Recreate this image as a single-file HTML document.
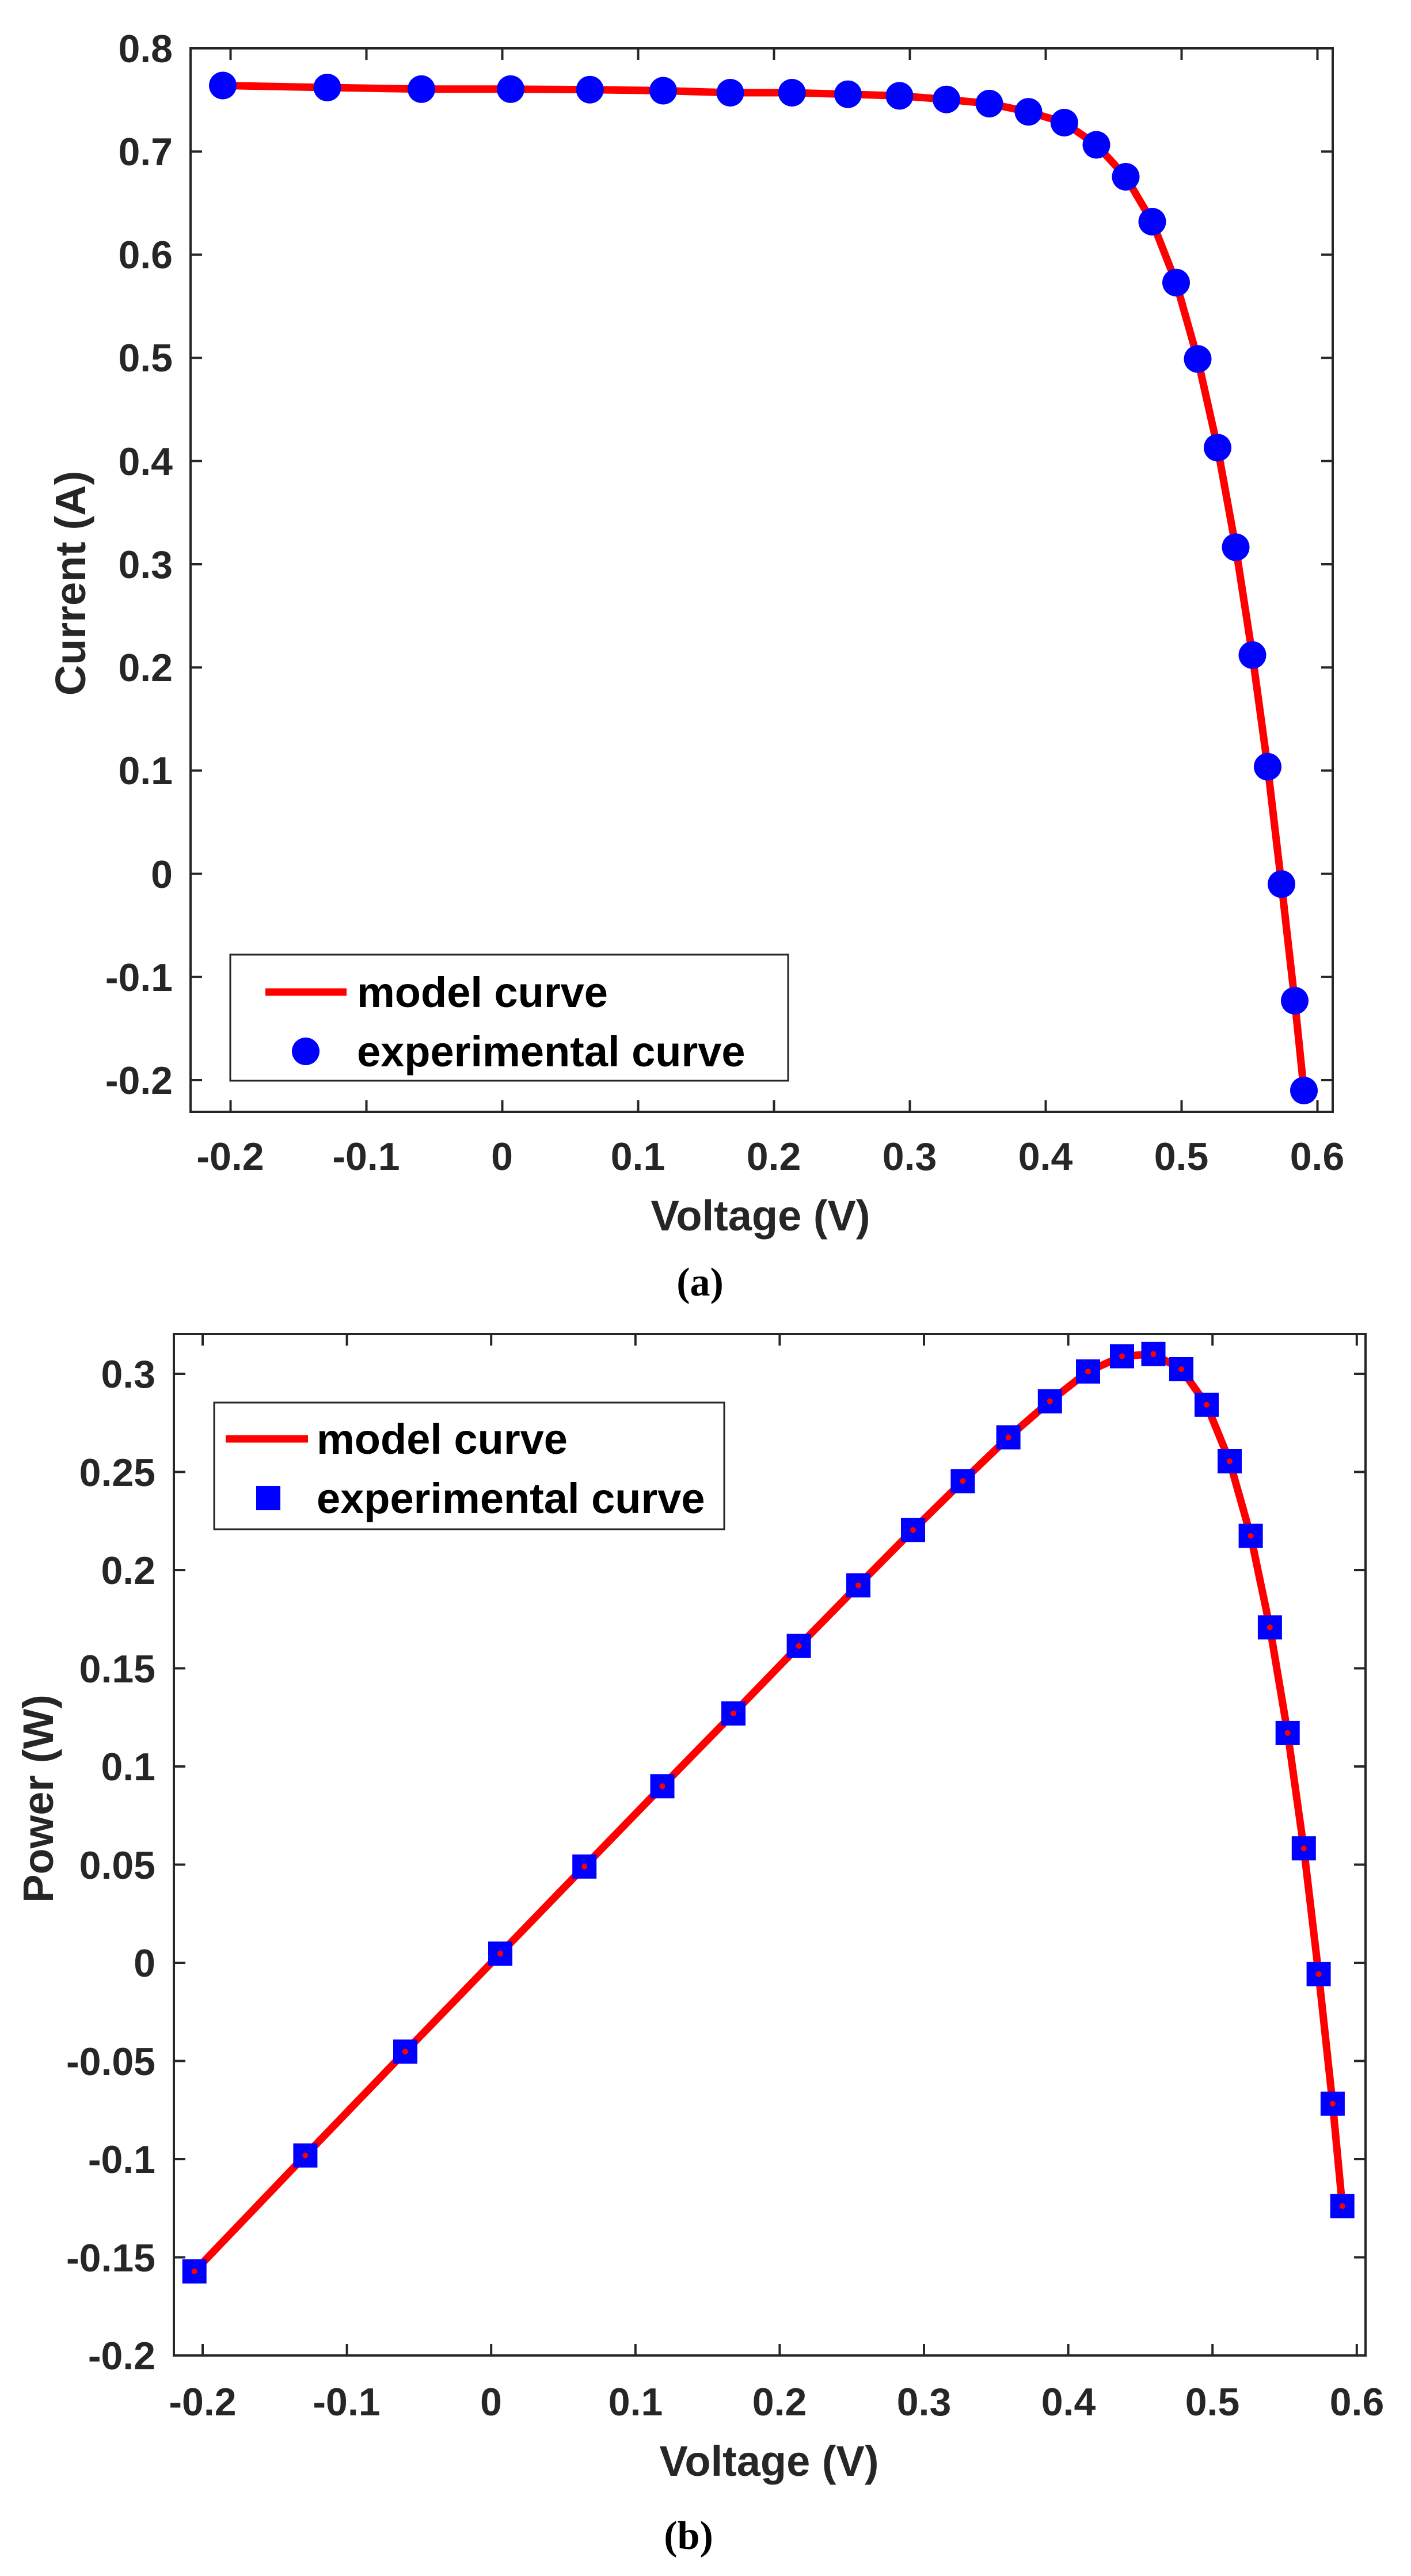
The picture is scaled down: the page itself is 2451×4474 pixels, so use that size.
<!DOCTYPE html>
<html><head><meta charset="utf-8"><style>
html,body{margin:0;padding:0;background:#fff}
svg{display:block}
text{font-family:"Liberation Sans",Arial,sans-serif;font-weight:bold;fill:#262626}
.t{font-size:68px}
.lab{font-size:74px}
.lg{font-size:74px;fill:#000}
.cap{font-family:"Liberation Serif",serif;font-size:70px;fill:#000}
</style></head><body>
<svg width="2451" height="4474" viewBox="0 0 2451 4474" xmlns="http://www.w3.org/2000/svg">
<rect width="2451" height="4474" fill="#fff"/>
<!-- ===== Plot (a) ===== -->
<g stroke="#262626" stroke-width="4" fill="none">
<rect x="331" y="84" width="1984" height="1847"/>
<path d="M331 84h20M331 263.2h20M331 442.4h20M331 621.6h20M331 800.8h20M331 980h20M331 1159.2h20M331 1338.4h20M331 1517.6h20M331 1696.8h20M331 1876h20
M2315 84h-20M2315 263.2h-20M2315 442.4h-20M2315 621.6h-20M2315 800.8h-20M2315 980h-20M2315 1159.2h-20M2315 1338.4h-20M2315 1517.6h-20M2315 1696.8h-20M2315 1876h-20
M400.5 1931v-20M636.5 1931v-20M872.5 1931v-20M1108.5 1931v-20M1344.5 1931v-20M1580.5 1931v-20M1816.5 1931v-20M2052.5 1931v-20M2288.5 1931v-20
M400.5 84v20M636.5 84v20M872.5 84v20M1108.5 84v20M1344.5 84v20M1580.5 84v20M1816.5 84v20M2052.5 84v20M2288.5 84v20"/>
</g>
<g class="t" text-anchor="end">
<text x="300" y="108">0.8</text><text x="300" y="287">0.7</text><text x="300" y="466">0.6</text><text x="300" y="645">0.5</text><text x="300" y="825">0.4</text><text x="300" y="1004">0.3</text><text x="300" y="1183">0.2</text><text x="300" y="1362">0.1</text><text x="300" y="1542">0</text><text x="300" y="1721">-0.1</text><text x="300" y="1900">-0.2</text>
</g>
<g class="t" text-anchor="middle">
<text x="400" y="2032">-0.2</text><text x="636" y="2032">-0.1</text><text x="872" y="2032">0</text><text x="1108" y="2032">0.1</text><text x="1344" y="2032">0.2</text><text x="1580" y="2032">0.3</text><text x="1816" y="2032">0.4</text><text x="2052" y="2032">0.5</text><text x="2288" y="2032">0.6</text>
</g>
<text class="lab" x="1321" y="2137" text-anchor="middle">Voltage (V)</text>
<text class="lab" transform="translate(148,1013) rotate(-90)" text-anchor="middle">Current (A)</text>
<text class="cap" x="1216" y="2250" text-anchor="middle">(<tspan font-weight="bold">a</tspan>)</text>
<polyline fill="none" stroke="#f00" stroke-width="13" stroke-linejoin="round" points="387,148.5 568.5,152 732,154.8 887,154.8 1024.7,155.7 1152,157.5 1268.5,161 1375.7,161 1473,163.7 1562.5,166.4 1644,172.7 1718.5,179.9 1786.5,194.2 1848.8,213 1904.5,251.5 1955.5,307 2001.5,385 2043,490.8 2080.5,623.4 2115,777.5 2146.5,950.4 2175.5,1137.7 2202,1331.7 2226,1535.5 2249,1738 2265,1894"/>
<g fill="#00f">
<circle cx="387" cy="148.5" r="24"/><circle cx="568.5" cy="152" r="24"/><circle cx="732" cy="154.8" r="24"/><circle cx="887" cy="154.8" r="24"/><circle cx="1024.7" cy="155.7" r="24"/><circle cx="1152" cy="157.5" r="24"/><circle cx="1268.5" cy="161" r="24"/><circle cx="1375.7" cy="161" r="24"/><circle cx="1473" cy="163.7" r="24"/><circle cx="1562.5" cy="166.4" r="24"/><circle cx="1644" cy="172.7" r="24"/><circle cx="1718.5" cy="179.9" r="24"/><circle cx="1786.5" cy="194.2" r="24"/><circle cx="1848.8" cy="213" r="24"/><circle cx="1904.5" cy="251.5" r="24"/><circle cx="1955.5" cy="307" r="24"/><circle cx="2001.5" cy="385" r="24"/><circle cx="2043" cy="490.8" r="24"/><circle cx="2080.5" cy="623.4" r="24"/><circle cx="2115" cy="777.5" r="24"/><circle cx="2146.5" cy="950.4" r="24"/><circle cx="2175.5" cy="1137.7" r="24"/><circle cx="2202" cy="1331.7" r="24"/><circle cx="2226" cy="1535.5" r="24"/><circle cx="2249" cy="1738" r="24"/><circle cx="2265" cy="1894" r="24"/>
</g>
<rect x="400" y="1658" width="969" height="219" fill="#fff" stroke="#262626" stroke-width="3"/>
<line x1="461" y1="1723" x2="602" y2="1723" stroke="#f00" stroke-width="13"/>
<circle cx="531" cy="1826" r="24" fill="#00f"/>
<text class="lg" x="620" y="1749">model curve</text>
<text class="lg" x="620" y="1852">experimental curve</text>

<!-- ===== Plot (b) ===== -->
<g stroke="#262626" stroke-width="4" fill="none">
<rect x="302" y="2317" width="2070" height="1774"/>
<path d="M302 2386h20M302 2556.5h20M302 2727h20M302 2897.5h20M302 3068h20M302 3238.5h20M302 3409h20M302 3579.5h20M302 3750h20M302 3920.5h20M302 4091h20
M2372 2386h-20M2372 2556.5h-20M2372 2727h-20M2372 2897.5h-20M2372 3068h-20M2372 3238.5h-20M2372 3409h-20M2372 3579.5h-20M2372 3750h-20M2372 3920.5h-20M2372 4091h-20
M352 4091v-20M602.6 4091v-20M853.2 4091v-20M1103.8 4091v-20M1354.4 4091v-20M1605 4091v-20M1855.6 4091v-20M2106.2 4091v-20M2356.8 4091v-20
M352 2317v20M602.6 2317v20M853.2 2317v20M1103.8 2317v20M1354.4 2317v20M1605 2317v20M1855.6 2317v20M2106.2 2317v20M2356.8 2317v20"/>
</g>
<g class="t" text-anchor="end">
<text x="270" y="2410">0.3</text><text x="270" y="2581">0.25</text><text x="270" y="2751">0.2</text><text x="270" y="2922">0.15</text><text x="270" y="3092">0.1</text><text x="270" y="3263">0.05</text><text x="270" y="3433">0</text><text x="270" y="3604">-0.05</text><text x="270" y="3774">-0.1</text><text x="270" y="3945">-0.15</text><text x="270" y="4115">-0.2</text>
</g>
<g class="t" text-anchor="middle">
<text x="352" y="4195">-0.2</text><text x="602" y="4195">-0.1</text><text x="853" y="4195">0</text><text x="1104" y="4195">0.1</text><text x="1354" y="4195">0.2</text><text x="1605" y="4195">0.3</text><text x="1856" y="4195">0.4</text><text x="2106" y="4195">0.5</text><text x="2357" y="4195">0.6</text>
</g>
<text class="lab" x="1336" y="4300" text-anchor="middle">Voltage (V)</text>
<text class="lab" transform="translate(92,3124) rotate(-90)" text-anchor="middle">Power (W)</text>
<text class="cap" x="1196" y="4427" text-anchor="middle">(<tspan font-weight="bold">b</tspan>)</text>
<polyline fill="none" stroke="#f00" stroke-width="13" stroke-linejoin="round" points="337.7,3945 530.4,3743.6 704,3563.3 869,3393 1015.2,3241.8 1150.5,3102.3 1274,2975.9 1387.6,2858.7 1491,2753.4 1586,2657.2 1672.4,2572.4 1751.6,2496.4 1823.8,2433.7 1890,2382 1949,2355.5 2003.5,2351.7 2052,2378 2096,2439.8 2136,2538 2172.6,2667.5 2205.9,2826.4 2236.7,3009.9 2264.8,3210.2 2290.6,3428.6 2314.9,3653.7 2331.7,3831.5"/>
<g fill="#00f">
<rect x="316.7" y="3924" width="42" height="42"/><rect x="509.4" y="3722.6" width="42" height="42"/><rect x="683" y="3542.3" width="42" height="42"/><rect x="848" y="3372" width="42" height="42"/><rect x="994.2" y="3220.8" width="42" height="42"/><rect x="1129.5" y="3081.3" width="42" height="42"/><rect x="1253" y="2954.9" width="42" height="42"/><rect x="1366.6" y="2837.7" width="42" height="42"/><rect x="1470" y="2732.4" width="42" height="42"/><rect x="1565" y="2636.2" width="42" height="42"/><rect x="1651.4" y="2551.4" width="42" height="42"/><rect x="1730.6" y="2475.4" width="42" height="42"/><rect x="1802.8" y="2412.7" width="42" height="42"/><rect x="1869" y="2361" width="42" height="42"/><rect x="1928" y="2334.5" width="42" height="42"/><rect x="1982.5" y="2330.7" width="42" height="42"/><rect x="2031" y="2357" width="42" height="42"/><rect x="2075" y="2418.8" width="42" height="42"/><rect x="2115" y="2517" width="42" height="42"/><rect x="2151.6" y="2646.5" width="42" height="42"/><rect x="2184.9" y="2805.4" width="42" height="42"/><rect x="2215.7" y="2988.9" width="42" height="42"/><rect x="2243.8" y="3189.2" width="42" height="42"/><rect x="2269.6" y="3407.6" width="42" height="42"/><rect x="2293.9" y="3632.7" width="42" height="42"/><rect x="2310.7" y="3810.5" width="42" height="42"/>
</g>
<g fill="#f00">
<circle cx="337.7" cy="3945" r="5"/><circle cx="530.4" cy="3743.6" r="5"/><circle cx="704" cy="3563.3" r="5"/><circle cx="869" cy="3393" r="5"/><circle cx="1015.2" cy="3241.8" r="5"/><circle cx="1150.5" cy="3102.3" r="5"/><circle cx="1274" cy="2975.9" r="5"/><circle cx="1387.6" cy="2858.7" r="5"/><circle cx="1491" cy="2753.4" r="5"/><circle cx="1586" cy="2657.2" r="5"/><circle cx="1672.4" cy="2572.4" r="5"/><circle cx="1751.6" cy="2496.4" r="5"/><circle cx="1823.8" cy="2433.7" r="5"/><circle cx="1890" cy="2382" r="5"/><circle cx="1949" cy="2355.5" r="5"/><circle cx="2003.5" cy="2351.7" r="5"/><circle cx="2052" cy="2378" r="5"/><circle cx="2096" cy="2439.8" r="5"/><circle cx="2136" cy="2538" r="5"/><circle cx="2172.6" cy="2667.5" r="5"/><circle cx="2205.9" cy="2826.4" r="5"/><circle cx="2236.7" cy="3009.9" r="5"/><circle cx="2264.8" cy="3210.2" r="5"/><circle cx="2290.6" cy="3428.6" r="5"/><circle cx="2314.9" cy="3653.7" r="5"/><circle cx="2331.7" cy="3831.5" r="5"/>
</g>
<rect x="372" y="2436" width="886" height="220" fill="#fff" stroke="#262626" stroke-width="3"/>
<line x1="392" y1="2499" x2="535" y2="2499" stroke="#f00" stroke-width="13"/>
<rect x="445" y="2581" width="42" height="42" fill="#00f"/>
<text class="lg" x="550" y="2525">model curve</text>
<text class="lg" x="550" y="2628">experimental curve</text>
</svg>
</body></html>
